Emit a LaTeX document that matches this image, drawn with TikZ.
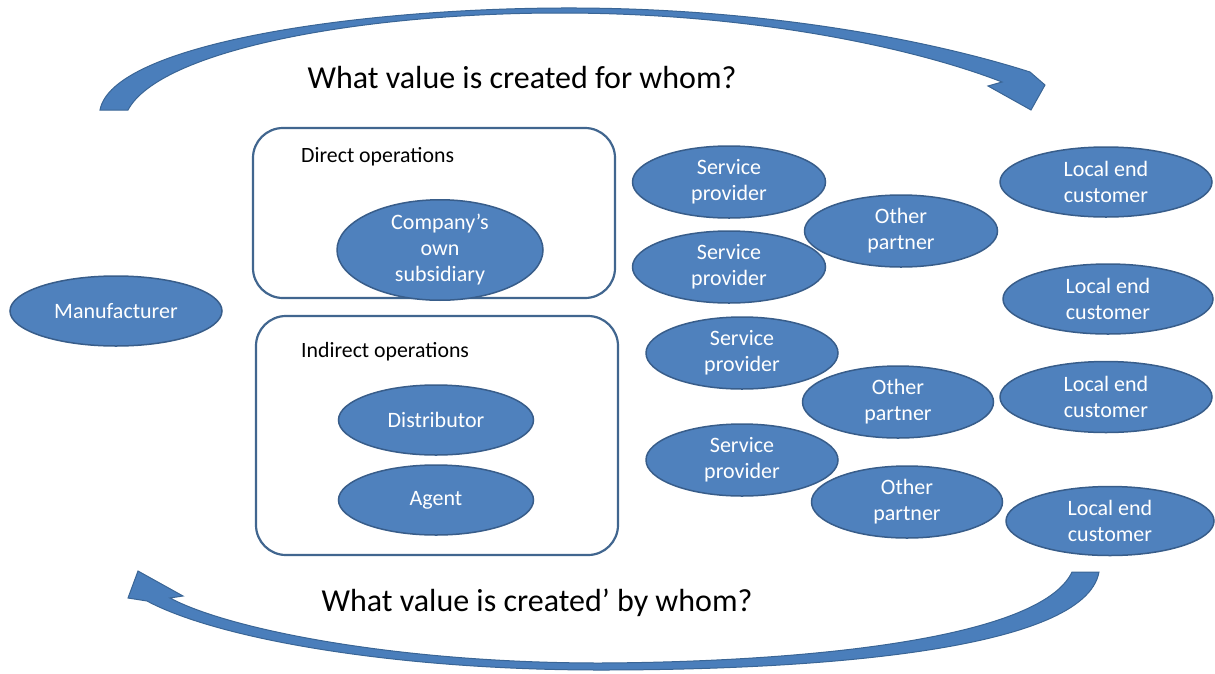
\documentclass[tikz,border=0pt]{standalone}
\usepackage{fontspec}
\setmainfont{Carlito}
\usetikzlibrary{shapes.geometric}
\definecolor{fillc}{HTML}{4F81BD}
\definecolor{bord}{HTML}{385D8A}
\definecolor{arrowc}{HTML}{4A7EBB}
\definecolor{arrowd}{HTML}{3A6595}
\definecolor{boxc}{HTML}{41668F}
\tikzset{
  blob/.style={ellipse, draw=bord, fill=fillc, line width=1.5pt, text=white,
    font=\fontsize{22}{26}\selectfont, align=center, inner sep=0pt},
  opbox/.style={draw=boxc, line width=2.2pt, rounded corners=30pt, fill=white},
  boxlabel/.style={anchor=west, font=\fontsize{21.8}{26}\selectfont, inner sep=0pt},
  question/.style={font=\fontsize{32}{36}\selectfont, inner sep=0pt},
  bigarrow/.style={fill=arrowc, draw=arrowd, line width=1pt, line join=miter}
}
\begin{document}
\begin{tikzpicture}[x=1pt,y=-1pt]
\useasboundingbox (0,0) rectangle (1215,673);
% top arrow
\draw[bigarrow] (100,110) .. controls (112,45) and (350,9) .. (560,8)
  .. controls (760,7) and (930,40) .. (1030,72) -- (1045,85) -- (1031,110) -- (988,86) -- (1002,82)
  .. controls (920,50) and (760,13) .. (560,13)
  .. controls (360,13) and (160,50) .. (128,110) -- cycle;
% bottom arrow
\draw[bigarrow] (1072,572) .. controls (1040,640) and (800,662) .. (600,663)
  .. controls (400,663) and (230,630) .. (170,598) -- (183,596) -- (138,571) -- (128,598) -- (147,601)
  .. controls (220,640) and (400,670) .. (600,670)
  .. controls (820,670) and (1085,650) .. (1099,572) -- cycle;
\node[question] (q1) at (522,78) {What value is created for whom?};
\node[question] (q2) at (537,603) {What value is created’ by whom?};
% boxes
\draw[opbox] (253,128) rectangle (615,298);
\draw[opbox] (256,316) rectangle (618,555);
\node[boxlabel] (dlab) at (301,157) {Direct operations};
\node[boxlabel] (ilab) at (301,352) {Indirect operations};
% ellipses
\node[blob, minimum width=212pt, minimum height=70pt] (man) at (116,311) {Manufacturer};
\node[blob, minimum width=206pt, minimum height=82pt] (sub) at (440,250) {Company’s\\own\\subsidiary};
\node[blob, minimum width=195pt, minimum height=70pt] (dist) at (436,420) {Distributor};
\node[blob, minimum width=195pt, minimum height=70pt] (agent) at (436,500) {Agent};
\node[blob, minimum width=193pt, minimum height=72pt] (sp1) at (729,182) {Service\\provider};
\node[blob, minimum width=193pt, minimum height=72pt] (sp2) at (729,267) {Service\\provider};
\node[blob, minimum width=192pt, minimum height=72pt] (sp3) at (742,353) {Service\\provider};
\node[blob, minimum width=192pt, minimum height=72pt] (sp4) at (742,460) {Service\\provider};
\node[blob, minimum width=193pt, minimum height=72pt] (op1) at (901,231) {Other\\partner};
\node[blob, minimum width=191pt, minimum height=72pt] (op2) at (898,402) {Other\\partner};
\node[blob, minimum width=191pt, minimum height=72pt] (op3) at (907,502) {Other\\partner};
\node[blob, minimum width=212pt, minimum height=70pt] (lec1) at (1106,182) {Local end\\customer};
\node[blob, minimum width=210pt, minimum height=70pt] (lec2) at (1108,299) {Local end\\customer};
\node[blob, minimum width=212pt, minimum height=71pt] (lec3) at (1106,397) {Local end\\customer};
\node[blob, minimum width=208pt, minimum height=69pt] (lec4) at (1110,521) {Local end\\customer};
\end{tikzpicture}
\end{document}
